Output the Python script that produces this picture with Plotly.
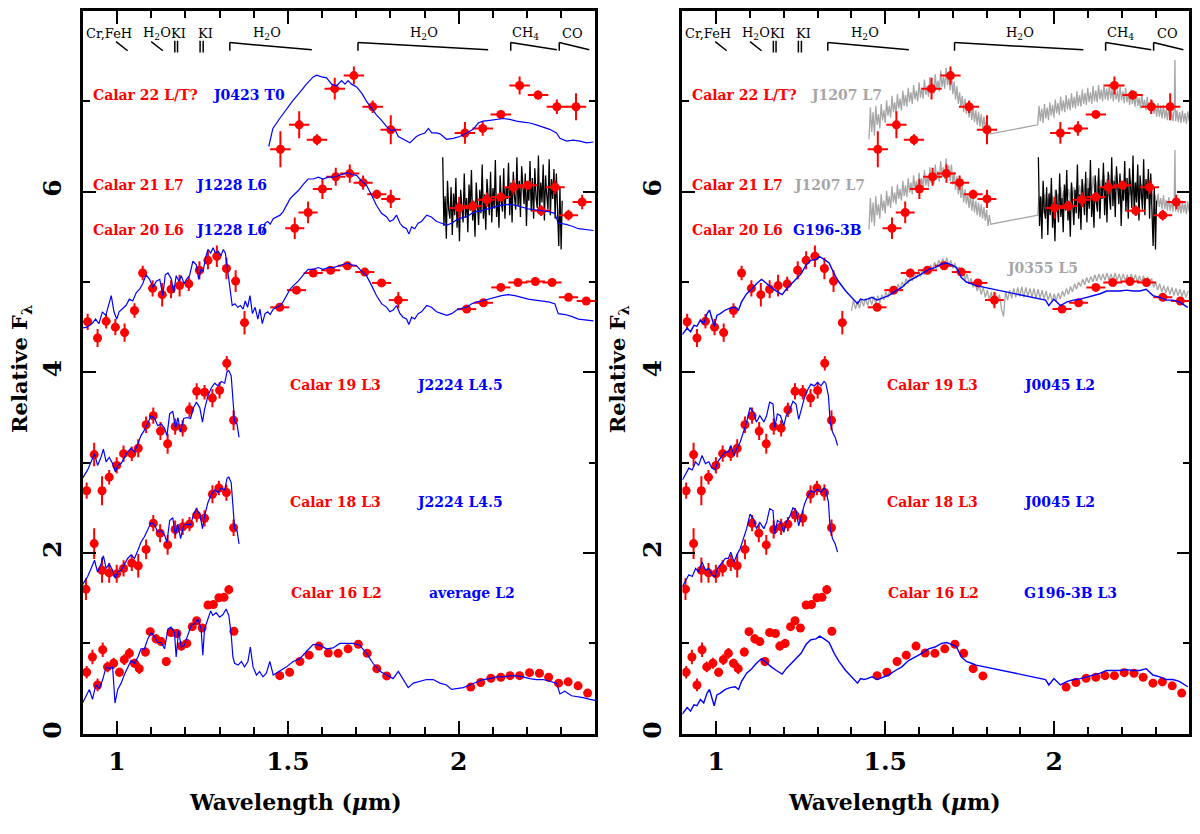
import plotly.graph_objects as go

# ---------------- photometry (identical in both panels) ----------------
CALAR16_X = [0.911, 0.928, 0.943, 0.958, 0.972, 0.990, 1.007, 1.021, 1.036, 1.051,
             1.065, 1.083, 1.097, 1.114, 1.129, 1.144, 1.158, 1.175, 1.188, 1.204,
             1.220, 1.233, 1.249, 1.266, 1.282, 1.298, 1.313, 1.327, 1.342,
             1.476, 1.505, 1.535, 1.562, 1.591, 1.618, 1.647, 1.676, 1.706, 1.732,
             1.760, 1.789,
             2.035, 2.064, 2.094, 2.123, 2.150, 2.178, 2.207, 2.236, 2.263, 2.292,
             2.320, 2.349, 2.377]
CALAR16_Y = [0.68, 0.85, 0.54, 0.93, 0.74, 0.78, 0.68, 0.82, 0.89, 0.78,
             0.72, 0.905, 1.13, 1.05, 1.02, 0.80, 1.12, 1.11, 0.97, 1.00,
             1.185, 1.25, 1.17, 1.425, 1.43, 1.505, 1.51, 1.595, 1.134,
             0.643, 0.68, 0.80, 0.87, 0.97, 0.894, 0.89, 0.94, 0.99, 0.89,
             0.72, 0.64,
             0.516, 0.567, 0.614, 0.625, 0.643, 0.643, 0.676, 0.67, 0.625, 0.56,
             0.574, 0.53, 0.45]
CALAR16_EY = [0.07, 0.08, 0.07, 0.08, 0.06, 0.06, 0.05, 0.06, 0.06, 0.05,
              0.06, 0.05, 0.04, 0.05, 0.05, 0.05, 0.04, 0.04, 0.05, 0.05,
              0.04, 0.04, 0.04, 0.04, 0.04, 0.04, 0.04, 0.05, 0.04,
              0.02, 0.02, 0.02, 0.02, 0.02, 0.02, 0.02, 0.02, 0.02, 0.02,
              0.02, 0.02,
              0.02, 0.02, 0.02, 0.02, 0.02, 0.02, 0.02, 0.02, 0.02, 0.02,
              0.02, 0.02, 0.02]

CALAR18_X = [0.909, 0.933, 0.956, 0.977, 0.999, 1.019, 1.043, 1.062, 1.085, 1.106,
             1.126, 1.148, 1.170, 1.192, 1.212, 1.233, 1.256, 1.279, 1.298, 1.320, 1.341]
CALAR18_Y = [1.60, 2.105, 1.81, 1.78, 1.77, 1.83, 1.89, 1.86, 2.04, 2.33,
             2.22, 2.09, 2.26, 2.29, 2.32, 2.42, 2.385, 2.65, 2.72, 2.67, 2.28]
CALAR18_EY = [0.12, 0.17, 0.14, 0.11, 0.10, 0.09, 0.09, 0.13, 0.11, 0.09,
              0.10, 0.11, 0.10, 0.09, 0.08, 0.08, 0.09, 0.10, 0.08, 0.09, 0.09]

CALAR19_X = [0.911, 0.933, 0.956, 0.977, 0.999, 1.019, 1.043, 1.062, 1.085, 1.106,
             1.127, 1.148, 1.170, 1.192, 1.212, 1.233, 1.256, 1.279, 1.300, 1.321, 1.341]
CALAR19_Y = [2.69, 3.09, 2.69, 2.84, 2.97, 3.10, 3.10, 3.16, 3.42, 3.52,
             3.35, 3.21, 3.40, 3.38, 3.585, 3.79, 3.78, 3.715, 3.80, 4.10, 3.47]
CALAR19_EY = [0.09, 0.13, 0.16, 0.08, 0.09, 0.09, 0.08, 0.10, 0.09, 0.09,
              0.10, 0.11, 0.09, 0.09, 0.08, 0.09, 0.08, 0.10, 0.09, 0.08, 0.11]

CALAR20_X = [0.914, 0.943, 0.968, 0.995, 1.022, 1.051, 1.075, 1.104, 1.132, 1.158,
             1.183, 1.210, 1.241, 1.266, 1.292, 1.320, 1.347, 1.373,
             1.476, 1.525, 1.574, 1.625, 1.674, 1.725, 1.774, 1.823,
             2.023, 2.072, 2.123, 2.173, 2.224, 2.273, 2.321, 2.373]
CALAR20_Y = [4.56, 4.38, 4.565, 4.50, 4.44, 4.685, 5.10, 4.93, 4.86, 4.92,
             4.96, 4.98, 5.13, 5.24, 5.285, 5.15, 5.01, 4.55,
             4.72, 4.91, 5.10, 5.13, 5.18, 5.11, 4.99, 4.80,
             4.70, 4.77, 4.94, 4.995, 5.005, 4.995, 4.83, 4.79]
CALAR20_EX = [0.012] * 18 + [0.028] * 16
CALAR20_EY = [0.09, 0.10, 0.08, 0.09, 0.10, 0.08, 0.08, 0.09, 0.13, 0.10,
              0.12, 0.08, 0.10, 0.10, 0.12, 0.12, 0.12, 0.13,
              0.03, 0.03, 0.03, 0.03, 0.03, 0.03, 0.03, 0.09,
              0.03, 0.03, 0.03, 0.03, 0.03, 0.03, 0.03, 0.03]

CALAR21_X = [1.520, 1.559, 1.601, 1.640, 1.681, 1.720, 1.760, 1.801,
             2.001, 2.041, 2.082, 2.123, 2.160, 2.202, 2.241, 2.282, 2.321, 2.361]
CALAR21_Y = [5.595, 5.77, 6.03, 6.165, 6.20, 6.10, 5.97, 5.92,
             5.82, 5.84, 5.91, 5.94, 6.05, 6.07, 5.79, 6.05, 5.74, 5.885]
CALAR21_EY = [0.12, 0.12, 0.11, 0.10, 0.10, 0.08, 0.05, 0.10,
              0.12, 0.06, 0.08, 0.05, 0.08, 0.05, 0.06, 0.08, 0.06, 0.08]

CALAR22_X = [1.478, 1.533, 1.585, 1.637, 1.693, 1.748, 1.801,
             2.018, 2.070, 2.123, 2.178, 2.232, 2.287, 2.343]
CALAR22_Y = [6.47, 6.74, 6.575, 7.14, 7.285, 6.94, 6.685,
             6.65, 6.70, 6.855, 7.175, 7.07, 6.94, 6.94]
CALAR22_EY = [0.20, 0.15, 0.06, 0.12, 0.10, 0.07, 0.16,
              0.12, 0.08, 0.03, 0.10, 0.05, 0.08, 0.15]

# K-band spectrum of Calar 21 (black)
CALAR21_SPEC_X = [
    1.9530, 1.9565, 1.9600, 1.9635, 1.9670, 1.9705, 1.9740, 1.9775, 1.9810, 1.9845,
    1.9880, 1.9915, 1.9950, 1.9985, 2.0020, 2.0055, 2.0090, 2.0125, 2.0160, 2.0195,
    2.0230, 2.0265, 2.0300, 2.0335, 2.0370, 2.0405, 2.0440, 2.0475, 2.0510, 2.0545,
    2.0580, 2.0615, 2.0650, 2.0685, 2.0720, 2.0755, 2.0790, 2.0825, 2.0860, 2.0895,
    2.0930, 2.0965, 2.1000, 2.1035, 2.1070, 2.1105, 2.1140, 2.1175, 2.1210, 2.1245,
    2.1280, 2.1315, 2.1350, 2.1385, 2.1420, 2.1455, 2.1490, 2.1525, 2.1560, 2.1595,
    2.1630, 2.1665, 2.1700, 2.1735, 2.1770, 2.1805, 2.1840, 2.1875, 2.1910, 2.1945,
    2.1980, 2.2015, 2.2050, 2.2085, 2.2120, 2.2155, 2.2190, 2.2225, 2.2260, 2.2295,
    2.2330, 2.2365, 2.2400, 2.2435, 2.2470, 2.2505, 2.2540, 2.2575, 2.2610, 2.2645,
    2.2680, 2.2715, 2.2750, 2.2785, 2.2820, 2.2855, 2.2890, 2.2925, 2.2960, 2.2995,
    2.3025,
]
CALAR21_SPEC_Y = [
    6.38, 5.62, 5.95, 5.48, 6.12, 5.80, 5.70, 6.05, 5.52, 5.98,
    5.74, 6.15, 5.60, 5.88, 5.45, 6.02, 5.83, 5.66, 6.20, 5.72,
    5.93, 5.55, 6.08, 5.79, 6.24, 5.68, 5.90, 5.50, 6.10, 5.84,
    5.63, 6.02, 5.76, 6.30, 5.70, 5.97, 5.58, 6.14, 5.86, 5.74,
    6.22, 5.66, 6.04, 5.81, 6.35, 5.72, 5.96, 5.60, 6.18, 5.88,
    5.78, 6.26, 5.70, 6.05, 5.92, 6.32, 5.74, 6.10, 5.66, 6.22,
    5.95, 5.80, 6.38, 5.84, 6.12, 5.72, 6.28, 5.98, 5.86, 6.20,
    5.62, 6.08, 5.90, 6.34, 5.78, 6.15, 5.70, 6.26, 5.94, 5.82,
    6.40, 5.76, 6.10, 5.88, 6.30, 5.68, 6.18, 5.96, 5.80, 6.36,
    5.74, 6.14, 5.92, 6.25, 5.70, 6.20, 5.85, 5.40, 6.05, 5.36,
    5.90,
]

# ---------------- comparison spectra ----------------
AVERAGE_L2 = [
    (0.899, 0.34), (0.909, 0.415), (0.919, 0.49), (0.928, 0.38), (0.938, 0.54),
    (0.948, 0.50), (0.958, 0.60), (0.968, 0.74), (0.977, 0.72), (0.987, 0.74),
    (0.994, 0.34), (1.002, 0.49), (1.012, 0.56), (1.021, 0.65), (1.031, 0.74),
    (1.041, 0.81), (1.051, 0.78), (1.061, 0.85), (1.070, 0.94), (1.080, 0.94),
    (1.090, 1.05), (1.100, 1.12), (1.110, 1.07), (1.119, 1.01), (1.129, 1.01),
    (1.139, 0.94), (1.149, 1.16), (1.158, 1.18), (1.168, 1.12), (1.173, 0.85),
    (1.180, 1.14), (1.188, 0.96), (1.197, 0.98), (1.207, 1.09), (1.217, 1.20),
    (1.227, 1.22), (1.237, 1.27), (1.246, 1.16), (1.251, 0.87), (1.256, 1.16),
    (1.266, 1.27), (1.274, 1.36), (1.280, 1.31), (1.290, 1.34), (1.300, 1.29),
    (1.310, 1.32), (1.319, 1.38), (1.327, 1.31), (1.334, 1.10), (1.339, 0.85),
    (1.344, 0.78), (1.354, 0.76), (1.364, 0.80), (1.373, 0.74), (1.383, 0.80),
    (1.390, 0.96), (1.398, 0.74), (1.408, 0.65), (1.417, 0.69), (1.427, 0.63),
    (1.437, 0.67), (1.447, 0.80), (1.457, 0.65), (1.466, 0.67), (1.476, 0.69),
    (1.496, 0.74), (1.515, 0.80), (1.535, 0.83), (1.554, 0.91), (1.574, 0.99),
    (1.593, 0.98), (1.613, 0.94), (1.632, 0.95), (1.652, 1.00), (1.671, 1.00),
    (1.691, 1.00), (1.710, 0.98), (1.730, 0.89), (1.749, 0.78), (1.769, 0.69),
    (1.789, 0.65), (1.808, 0.61), (1.823, 0.69), (1.837, 0.60), (1.852, 0.51),
    (1.867, 0.56), (1.886, 0.58), (1.906, 0.60), (1.925, 0.60), (1.945, 0.56),
    (1.964, 0.54), (1.979, 0.49), (1.993, 0.50), (2.013, 0.51), (2.032, 0.54),
    (2.052, 0.57), (2.071, 0.60), (2.091, 0.61), (2.110, 0.63), (2.130, 0.63),
    (2.149, 0.64), (2.169, 0.64), (2.188, 0.63), (2.208, 0.61), (2.227, 0.60),
    (2.247, 0.60), (2.266, 0.58), (2.286, 0.56), (2.296, 0.44), (2.310, 0.47),
    (2.330, 0.42), (2.350, 0.41), (2.364, 0.40), (2.384, 0.38), (2.399, 0.37),
]

J2224 = [
    (0.899, 1.65), (0.914, 1.74), (0.924, 1.83), (0.934, 1.92), (0.943, 1.79),
    (0.953, 1.88), (0.960, 1.97), (0.968, 1.83), (0.977, 1.88), (0.987, 1.81),
    (0.995, 1.72), (1.002, 1.79), (1.012, 1.81), (1.021, 1.88), (1.031, 1.94),
    (1.041, 1.98), (1.051, 1.94), (1.061, 2.03), (1.070, 2.12), (1.080, 2.18),
    (1.090, 2.27), (1.100, 2.34), (1.110, 2.31), (1.119, 2.23), (1.129, 2.25),
    (1.139, 2.20), (1.146, 2.12), (1.154, 2.36), (1.163, 2.39), (1.171, 2.20),
    (1.178, 2.32), (1.186, 2.16), (1.195, 2.31), (1.205, 2.32), (1.215, 2.31),
    (1.224, 2.43), (1.232, 2.49), (1.242, 2.43), (1.250, 2.27), (1.256, 2.41),
    (1.266, 2.56), (1.276, 2.65), (1.286, 2.70), (1.295, 2.67), (1.305, 2.72),
    (1.315, 2.70), (1.322, 2.83), (1.327, 2.84), (1.334, 2.78), (1.339, 2.49),
    (1.344, 2.27), (1.351, 2.25), (1.357, 2.10),
]

J1228 = [
    (0.897, 4.49), (0.912, 4.50), (0.927, 4.54), (0.937, 4.59), (0.947, 4.54),
    (0.957, 4.67), (0.967, 4.63), (0.976, 4.74), (0.983, 4.85), (0.991, 4.67),
    (0.999, 4.59), (1.006, 4.67), (1.016, 4.70), (1.026, 4.74), (1.036, 4.81),
    (1.046, 4.79), (1.056, 4.88), (1.066, 4.92), (1.075, 4.98), (1.085, 5.08),
    (1.095, 5.03), (1.105, 4.94), (1.115, 5.01), (1.125, 5.03), (1.134, 4.85),
    (1.141, 5.08), (1.149, 5.10), (1.159, 5.03), (1.166, 4.88), (1.173, 5.07),
    (1.181, 5.01), (1.188, 5.07), (1.196, 4.98), (1.203, 5.03), (1.212, 5.07),
    (1.222, 5.23), (1.232, 5.19), (1.239, 5.03), (1.245, 5.14), (1.252, 5.12),
    (1.259, 5.27), (1.266, 5.36), (1.274, 5.32), (1.281, 5.38), (1.288, 5.32),
    (1.296, 5.34), (1.304, 5.29), (1.311, 5.36), (1.317, 5.32), (1.325, 5.10),
    (1.331, 4.88), (1.337, 4.74), (1.345, 4.76), (1.353, 4.72), (1.361, 4.74),
    (1.369, 4.70), (1.375, 4.79), (1.382, 4.72), (1.389, 4.85), (1.396, 4.65),
    (1.404, 4.72), (1.412, 4.59), (1.418, 4.70), (1.425, 4.54), (1.433, 4.65),
    (1.441, 4.67), (1.448, 4.64), (1.457, 4.70), (1.467, 4.72), (1.477, 4.74),
    (1.486, 4.78), (1.496, 4.85), (1.506, 4.92), (1.516, 4.96), (1.530, 5.01),
    (1.545, 5.08), (1.559, 5.14), (1.574, 5.14), (1.589, 5.16), (1.603, 5.14),
    (1.618, 5.16), (1.633, 5.16), (1.647, 5.18), (1.662, 5.20), (1.674, 5.21),
    (1.686, 5.19), (1.701, 5.18), (1.715, 5.12), (1.730, 5.07), (1.745, 4.96),
    (1.759, 4.85), (1.774, 4.76), (1.789, 4.72), (1.798, 4.67), (1.808, 4.69),
    (1.818, 4.74), (1.828, 4.65), (1.837, 4.61), (1.847, 4.59), (1.854, 4.53),
    (1.862, 4.61), (1.871, 4.59), (1.881, 4.65), (1.891, 4.67), (1.906, 4.74),
    (1.920, 4.72), (1.935, 4.67), (1.950, 4.65), (1.965, 4.63), (1.979, 4.65),
    (1.994, 4.69), (2.008, 4.71), (2.023, 4.72), (2.038, 4.76), (2.052, 4.78),
    (2.067, 4.79), (2.086, 4.81), (2.106, 4.83), (2.125, 4.85), (2.145, 4.86),
    (2.164, 4.85), (2.184, 4.83), (2.203, 4.81), (2.223, 4.80), (2.242, 4.79),
    (2.262, 4.78), (2.281, 4.76), (2.291, 4.65), (2.311, 4.64), (2.330, 4.62),
    (2.350, 4.59), (2.369, 4.58), (2.394, 4.57),
]

J0423 = [
    (1.444, 6.50), (1.450, 6.62), (1.456, 6.70), (1.476, 6.81), (1.496, 6.92),
    (1.515, 7.01), (1.535, 7.10), (1.554, 7.19), (1.574, 7.27), (1.584, 7.29),
    (1.599, 7.27), (1.613, 7.26), (1.628, 7.19), (1.642, 7.17), (1.657, 7.23),
    (1.667, 7.19), (1.676, 7.23), (1.686, 7.19), (1.701, 7.16), (1.716, 7.09),
    (1.730, 7.00), (1.745, 6.92), (1.759, 6.85), (1.774, 6.79), (1.789, 6.72),
    (1.803, 6.67), (1.813, 6.69), (1.823, 6.61), (1.837, 6.58), (1.857, 6.54),
    (1.876, 6.61), (1.886, 6.63), (1.901, 6.65), (1.911, 6.70), (1.921, 6.65),
    (1.935, 6.65), (1.945, 6.64), (1.964, 6.58), (1.984, 6.59), (2.003, 6.61),
    (2.023, 6.65), (2.042, 6.69), (2.057, 6.76), (2.071, 6.78), (2.091, 6.79),
    (2.110, 6.80), (2.130, 6.81), (2.149, 6.80), (2.169, 6.78), (2.188, 6.77),
    (2.208, 6.76), (2.227, 6.74), (2.247, 6.71), (2.266, 6.69), (2.286, 6.65),
    (2.296, 6.59), (2.315, 6.56), (2.335, 6.57), (2.355, 6.56), (2.374, 6.54),
    (2.394, 6.55),
]

# J1207 (grey), drawn with Calar 22 and again one unit lower with Calar 21
J1207 = [
    (1.452, 6.58), (1.456, 6.93), (1.460, 6.66), (1.464, 6.88), (1.468, 6.62),
    (1.472, 6.95), (1.476, 6.74), (1.480, 6.86), (1.484, 6.70), (1.488, 6.97),
    (1.492, 6.79), (1.496, 6.90), (1.500, 6.76), (1.504, 7.01), (1.508, 6.84),
    (1.512, 6.95), (1.516, 6.82), (1.520, 7.06), (1.524, 6.88), (1.528, 6.99),
    (1.532, 6.86), (1.536, 7.08), (1.540, 6.92), (1.544, 7.03), (1.548, 6.90),
    (1.552, 7.12), (1.556, 6.95), (1.560, 7.07), (1.564, 6.94), (1.568, 7.15),
    (1.572, 6.99), (1.576, 7.10), (1.580, 6.97), (1.584, 7.18), (1.588, 7.02),
    (1.592, 7.12), (1.596, 7.00), (1.600, 7.21), (1.604, 7.04), (1.608, 7.15),
    (1.612, 7.03), (1.616, 7.24), (1.620, 7.07), (1.624, 7.17), (1.628, 7.05),
    (1.632, 7.27), (1.636, 7.10), (1.640, 7.20), (1.644, 7.08), (1.648, 7.30),
    (1.652, 7.13), (1.656, 7.23), (1.660, 7.11), (1.664, 7.34), (1.668, 7.16),
    (1.672, 7.27), (1.676, 7.14), (1.680, 7.37), (1.684, 7.18), (1.688, 7.29),
    (1.692, 7.12), (1.696, 7.30), (1.700, 7.08), (1.704, 7.22), (1.708, 7.02),
    (1.712, 7.17), (1.716, 6.97), (1.720, 7.10), (1.724, 6.93), (1.728, 7.06),
    (1.732, 6.88), (1.736, 7.03), (1.740, 6.86), (1.744, 6.98), (1.748, 6.82),
    (1.752, 6.96), (1.756, 6.79), (1.760, 6.93), (1.764, 6.77), (1.768, 6.90),
    (1.772, 6.74), (1.776, 6.88), (1.780, 6.72), (1.784, 6.86), (1.788, 6.70),
    (1.792, 6.83), (1.796, 6.68), (1.800, 6.80), (1.804, 6.62), (1.808, 6.74),
    (1.812, 6.64),
    (1.951, 6.74), (1.955, 6.95), (1.959, 6.78), (1.963, 6.92), (1.967, 6.76),
    (1.971, 6.97), (1.975, 6.81), (1.979, 6.93), (1.983, 6.79), (1.987, 6.99),
    (1.991, 6.84), (1.995, 6.96), (1.999, 6.82), (2.003, 7.02), (2.007, 6.87),
    (2.011, 6.98), (2.015, 6.85), (2.019, 7.05), (2.023, 6.89), (2.027, 7.01),
    (2.031, 6.88), (2.035, 7.07), (2.039, 6.91), (2.043, 7.03), (2.047, 6.90),
    (2.051, 7.09), (2.055, 6.93), (2.059, 7.05), (2.063, 6.92), (2.067, 7.11),
    (2.071, 6.95), (2.075, 7.07), (2.079, 6.94), (2.083, 7.13), (2.087, 6.97),
    (2.091, 7.09), (2.095, 6.96), (2.099, 7.15), (2.103, 6.99), (2.107, 7.10),
    (2.111, 6.97), (2.115, 7.17), (2.119, 7.00), (2.123, 7.12), (2.127, 6.99),
    (2.131, 7.18), (2.135, 7.02), (2.139, 7.13), (2.143, 7.00), (2.147, 7.19),
    (2.151, 7.02), (2.155, 7.14), (2.159, 7.01), (2.163, 7.19), (2.167, 7.03),
    (2.171, 7.13), (2.175, 7.00), (2.179, 7.18), (2.183, 7.02), (2.187, 7.12),
    (2.191, 6.99), (2.195, 7.17), (2.199, 7.01), (2.203, 7.11), (2.207, 6.98),
    (2.211, 7.15), (2.215, 6.99), (2.219, 7.09), (2.223, 6.96), (2.227, 7.13),
    (2.231, 6.97), (2.235, 7.07), (2.239, 6.94), (2.243, 7.11), (2.247, 6.95),
    (2.251, 7.04), (2.255, 6.92), (2.259, 7.08), (2.263, 6.93), (2.267, 7.02),
    (2.271, 6.90), (2.275, 7.05), (2.279, 6.91), (2.283, 6.99), (2.287, 6.86),
    (2.291, 7.01), (2.295, 6.86), (2.299, 6.96), (2.303, 6.83), (2.307, 6.98),
    (2.311, 6.83), (2.315, 6.93), (2.319, 6.81), (2.323, 6.96), (2.327, 6.81),
    (2.331, 6.91), (2.335, 6.79), (2.339, 6.94), (2.343, 6.79), (2.347, 6.89),
    (2.351, 6.78), (2.355, 6.92), (2.357, 7.46), (2.359, 6.78), (2.363, 6.90),
    (2.367, 6.77), (2.371, 6.88), (2.375, 6.76), (2.379, 6.90), (2.383, 6.77),
    (2.387, 6.87), (2.391, 6.75), (2.395, 6.89), (2.399, 6.78),
]

J0355 = [
    (1.400, 4.68), (1.406, 4.80), (1.412, 4.70), (1.418, 4.79), (1.424, 4.71),
    (1.430, 4.81), (1.436, 4.73), (1.442, 4.82), (1.448, 4.74), (1.454, 4.83),
    (1.460, 4.75), (1.466, 4.84), (1.472, 4.76), (1.478, 4.85), (1.484, 4.77),
    (1.490, 4.86), (1.496, 4.80), (1.502, 4.89), (1.508, 4.83), (1.514, 4.92),
    (1.520, 4.86), (1.526, 4.95), (1.532, 4.89), (1.538, 4.98), (1.544, 4.92),
    (1.550, 5.00), (1.556, 4.95), (1.562, 5.04), (1.568, 4.98), (1.574, 5.07),
    (1.580, 5.01), (1.586, 5.10), (1.592, 5.04), (1.598, 5.12), (1.604, 5.06),
    (1.610, 5.14), (1.616, 5.08), (1.622, 5.17), (1.628, 5.11), (1.634, 5.19),
    (1.640, 5.13), (1.646, 5.22), (1.652, 5.15), (1.658, 5.24), (1.664, 5.18),
    (1.670, 5.26), (1.676, 5.19), (1.682, 5.27), (1.688, 5.18), (1.694, 5.24),
    (1.700, 5.15), (1.706, 5.21), (1.712, 5.11), (1.718, 5.17), (1.724, 5.07),
    (1.730, 5.13), (1.736, 5.02), (1.742, 5.09), (1.748, 4.98), (1.754, 5.04),
    (1.760, 4.94), (1.766, 5.00), (1.772, 4.90), (1.778, 4.97), (1.784, 4.86),
    (1.790, 4.94), (1.796, 4.83), (1.802, 4.91), (1.808, 4.80), (1.814, 4.89),
    (1.820, 4.74), (1.826, 4.88), (1.832, 4.78), (1.838, 4.86), (1.844, 4.70),
    (1.850, 4.62), (1.856, 4.90), (1.862, 4.80), (1.868, 4.91), (1.874, 4.82),
    (1.880, 4.93), (1.886, 4.83), (1.892, 4.94), (1.898, 4.84), (1.904, 4.95),
    (1.910, 4.83), (1.916, 4.94), (1.922, 4.84), (1.928, 4.93), (1.934, 4.83),
    (1.940, 4.93), (1.946, 4.82), (1.952, 4.92), (1.958, 4.82), (1.964, 4.91),
    (1.970, 4.81), (1.976, 4.90), (1.982, 4.80), (1.988, 4.88), (1.994, 4.78),
    (2.000, 4.87), (2.006, 4.79), (2.012, 4.88), (2.018, 4.81), (2.024, 4.90),
    (2.030, 4.84), (2.036, 4.93), (2.042, 4.86), (2.048, 4.95), (2.054, 4.89),
    (2.060, 4.98), (2.066, 4.92), (2.072, 5.00), (2.078, 4.95), (2.084, 5.03),
    (2.090, 4.97), (2.096, 5.05), (2.102, 4.99), (2.108, 5.06), (2.114, 5.00),
    (2.120, 5.08), (2.126, 5.01), (2.132, 5.09), (2.138, 5.02), (2.144, 5.09),
    (2.150, 5.02), (2.156, 5.10), (2.162, 5.02), (2.168, 5.09), (2.174, 5.01),
    (2.180, 5.10), (2.186, 5.02), (2.192, 5.09), (2.198, 5.01), (2.204, 5.09),
    (2.210, 5.01), (2.216, 5.08), (2.222, 5.00), (2.228, 5.09), (2.234, 5.01),
    (2.240, 5.08), (2.246, 5.00), (2.252, 5.07), (2.258, 4.99), (2.264, 5.07),
    (2.270, 4.99), (2.276, 5.06), (2.282, 4.98), (2.288, 5.04), (2.294, 4.94),
    (2.300, 5.00), (2.306, 4.91), (2.312, 4.98), (2.318, 4.89), (2.324, 4.96),
    (2.330, 4.88), (2.336, 4.95), (2.342, 4.86), (2.348, 4.94), (2.354, 4.85),
    (2.360, 4.93), (2.366, 4.85), (2.372, 4.92), (2.378, 4.84), (2.384, 4.91),
    (2.390, 4.83), (2.396, 4.90),
]

# G196-3B (plotted with Calar 16 as is, and shifted up with Calar 20)
G196_3B = [
    (0.899, 0.215), (0.914, 0.29), (0.924, 0.25), (0.934, 0.32), (0.943, 0.31),
    (0.953, 0.38), (0.963, 0.34), (0.973, 0.45), (0.980, 0.49), (0.987, 0.40),
    (0.994, 0.31), (1.002, 0.43), (1.012, 0.45), (1.027, 0.49), (1.041, 0.51),
    (1.056, 0.52), (1.066, 0.49), (1.075, 0.58), (1.090, 0.67), (1.105, 0.72),
    (1.119, 0.78), (1.134, 0.83), (1.149, 0.78), (1.163, 0.74), (1.178, 0.70),
    (1.195, 0.66), (1.207, 0.72), (1.222, 0.78), (1.236, 0.83), (1.251, 0.89),
    (1.266, 0.99), (1.280, 1.04), (1.295, 1.05), (1.306, 1.08), (1.319, 1.05),
    (1.334, 1.01), (1.349, 0.89), (1.363, 0.80), (1.383, 0.70), (1.403, 0.62),
    (1.418, 0.56), (1.427, 0.61), (1.437, 0.60), (1.447, 0.61), (1.461, 0.63),
    (1.476, 0.60), (1.491, 0.62), (1.510, 0.65), (1.530, 0.70), (1.549, 0.74),
    (1.569, 0.81), (1.589, 0.85), (1.608, 0.89), (1.628, 0.94), (1.647, 0.96),
    (1.667, 1.00), (1.682, 1.01), (1.696, 0.99), (1.711, 0.96), (1.725, 0.85),
    (1.740, 0.80), (1.755, 0.78), (1.769, 0.76), (1.974, 0.60), (1.984, 0.54),
    (1.999, 0.61), (2.018, 0.54), (2.038, 0.58), (2.057, 0.60), (2.077, 0.61),
    (2.097, 0.63), (2.116, 0.65), (2.136, 0.67), (2.155, 0.70), (2.175, 0.70),
    (2.194, 0.70), (2.214, 0.71), (2.233, 0.70), (2.253, 0.70), (2.272, 0.72),
    (2.292, 0.65), (2.312, 0.63), (2.331, 0.60), (2.351, 0.60), (2.370, 0.58),
    (2.395, 0.52),
]

J0045 = [
    (0.900, 1.63), (0.910, 1.70), (0.919, 1.76), (0.929, 1.74), (0.939, 1.83),
    (0.948, 1.79), (0.958, 1.90), (0.968, 1.81), (0.978, 1.83), (0.987, 1.76),
    (0.997, 1.74), (1.004, 1.83), (1.017, 1.90), (1.027, 1.94), (1.036, 1.94),
    (1.043, 2.01), (1.053, 1.90), (1.061, 1.98), (1.071, 2.05), (1.080, 2.16),
    (1.090, 2.27), (1.100, 2.43), (1.110, 2.38), (1.119, 2.27), (1.129, 2.34),
    (1.141, 2.27), (1.149, 2.34), (1.158, 2.49), (1.168, 2.47), (1.173, 2.21),
    (1.181, 2.36), (1.190, 2.34), (1.200, 2.23), (1.207, 2.34), (1.217, 2.40),
    (1.227, 2.50), (1.236, 2.47), (1.244, 2.30), (1.251, 2.40), (1.261, 2.54),
    (1.271, 2.63), (1.280, 2.69), (1.290, 2.67), (1.300, 2.71), (1.310, 2.67),
    (1.319, 2.72), (1.324, 2.70), (1.332, 2.56), (1.337, 2.27), (1.344, 2.16),
    (1.352, 2.10), (1.359, 2.01),
]

# absorption features marked along the top
BAND_NAMES = ["H<sub>2</sub>O", "H<sub>2</sub>O", "CH<sub>4</sub>", "CO"]
BAND_START = [1.33, 1.705, 2.152, 2.294]
BAND_END = [1.57, 2.086, 2.287, 2.382]
LINE_NAMES = ["Cr,FeH", "H<sub>2</sub>O", "KI", "KI"]
LINE_START = [0.997, 1.100, 1.169, 1.243]
LINE_END = [1.031, 1.134, 1.177, 1.252]

RED = "#ff0000"
BLUE = "#0000ff"
GRAY = "#a6a6a6"
BLACK = "#000000"
SERIF = "DejaVu Serif"

fig = go.Figure()


def unzip(pairs, offset=0.0, xmin=None):
    xs, ys = [], []
    for x, y in pairs:
        if xmin is not None and x < xmin:
            continue
        xs.append(x)
        ys.append(round(y + offset, 3))
    return xs, ys


def add_line(pairs, color, width, panel, offset=0.0, xmin=None):
    xs, ys = unzip(pairs, offset, xmin)
    fig.add_trace(go.Scatter(
        x=xs, y=ys, mode="lines",
        line={"color": color, "width": width},
        xaxis="x" + panel, yaxis="y" + panel,
        showlegend=False, hoverinfo="skip",
    ))


def add_points(x, y, ey, panel, ex=None):
    fig.add_trace(go.Scatter(
        x=x, y=y, mode="markers",
        marker={"color": RED, "size": 9},
        error_y={"type": "data", "array": ey, "color": RED, "thickness": 2, "width": 0},
        error_x={"type": "data", "array": ex, "color": RED, "thickness": 2, "width": 0}
        if ex is not None else None,
        xaxis="x" + panel, yaxis="y" + panel,
        showlegend=False,
    ))


def add_all_points(panel):
    add_points(CALAR16_X, CALAR16_Y, CALAR16_EY, panel)
    add_points(CALAR18_X, CALAR18_Y, CALAR18_EY, panel)
    add_points(CALAR19_X, CALAR19_Y, CALAR19_EY, panel)
    add_points(CALAR20_X, CALAR20_Y, CALAR20_EY, panel, CALAR20_EX)
    add_points(CALAR21_X, CALAR21_Y, CALAR21_EY, panel, [0.028] * len(CALAR21_X))
    add_points(CALAR22_X, CALAR22_Y, CALAR22_EY, panel, [0.03] * len(CALAR22_X))


calar21_spec = list(zip(CALAR21_SPEC_X, CALAR21_SPEC_Y))

# left panel
add_line(calar21_spec, BLACK, 1.3, "")
add_all_points("")
add_line(AVERAGE_L2, BLUE, 1.2, "")
add_line(J2224, BLUE, 1.2, "")
add_line(J2224, BLUE, 1.2, "", offset=1.18)
add_line(J1228, BLUE, 1.2, "")
add_line(J1228, BLUE, 1.2, "", offset=1.0, xmin=1.42)
add_line(J0423, BLUE, 1.2, "")

# right panel
add_line(J1207, GRAY, 1.3, "2")
add_line(J1207, GRAY, 1.3, "2", offset=-1.0)
add_line(J0355, GRAY, 1.3, "2")
add_line(calar21_spec, BLACK, 1.3, "2")
add_all_points("2")
add_line(G196_3B, BLUE, 1.4, "2")
add_line(G196_3B, BLUE, 1.4, "2", offset=4.2)
add_line(J0045, BLUE, 1.2, "2")
add_line(J0045, BLUE, 1.2, "2", offset=1.18)

# labels: (text, x, y, colour)
LEFT_LABELS = [
    ("Calar 22 L/T?", 0.925, 7.07, RED), ("J0423 T0", 1.271, 7.07, BLUE),
    ("Calar 21 L7", 0.925, 6.07, RED), ("J1228 L6", 1.222, 6.07, BLUE),
    ("Calar 20 L6", 0.925, 5.58, RED), ("J1228 L6", 1.222, 5.58, BLUE),
    ("Calar 19 L3", 1.500, 3.86, RED), ("J2224 L4.5", 1.869, 3.86, BLUE),
    ("Calar 18 L3", 1.500, 2.56, RED), ("J2224 L4.5", 1.869, 2.56, BLUE),
    ("Calar 16 L2", 1.503, 1.56, RED), ("average L2", 1.906, 1.56, BLUE),
]
RIGHT_LABELS = [
    ("Calar 22 L/T?", 0.922, 7.07, RED), ("J1207 L7", 1.271, 7.07, GRAY),
    ("Calar 21 L7", 0.922, 6.07, RED), ("J1207 L7", 1.222, 6.07, GRAY),
    ("Calar 20 L6", 0.922, 5.58, RED), ("G196-3B", 1.222, 5.58, BLUE),
    ("J0355 L5", 1.852, 5.16, GRAY),
    ("Calar 19 L3", 1.500, 3.86, RED), ("J0045 L2", 1.903, 3.86, BLUE),
    ("Calar 18 L3", 1.500, 2.56, RED), ("J0045 L2", 1.903, 2.56, BLUE),
    ("Calar 16 L2", 1.503, 1.56, RED), ("G196-3B L3", 1.906, 1.56, BLUE),
]

annotations = []
shapes = []
for panel, labels in (("", LEFT_LABELS), ("2", RIGHT_LABELS)):
    for text, x, y, color in labels:
        annotations.append(dict(
            text="<b>" + text + "</b>", x=x, y=y, xref="x" + panel, yref="y" + panel,
            xanchor="left", yanchor="middle", showarrow=False,
            font={"family": SERIF, "size": 14, "color": color},
        ))

    # feature markers at the top
    line_text_x = [0.903, 1.071, 1.152, 1.230]
    for name, x0, x1, tx in zip(LINE_NAMES, LINE_START, LINE_END, line_text_x):
        annotations.append(dict(
            text=name, x=tx, y=7.75, xref="x" + panel, yref="y" + panel,
            xanchor="left", yanchor="middle", showarrow=False,
            font={"family": SERIF, "size": 13, "color": BLACK},
        ))
        if name == "KI":
            for xv in (x0, x1):
                shapes.append(dict(type="line", x0=xv, x1=xv, y0=7.67, y1=7.54,
                                   xref="x" + panel, yref="y" + panel,
                                   line={"color": BLACK, "width": 1.5}))
        else:
            shapes.append(dict(type="line", x0=x0, x1=x1, y0=7.66, y1=7.56,
                               xref="x" + panel, yref="y" + panel,
                               line={"color": BLACK, "width": 1.5}))
    band_text_x = [1.393, 1.852, 2.150, 2.297]
    for name, x0, x1, tx in zip(BAND_NAMES, BAND_START, BAND_END, band_text_x):
        annotations.append(dict(
            text=name, x=tx, y=7.75, xref="x" + panel, yref="y" + panel,
            xanchor="left", yanchor="middle", showarrow=False,
            font={"family": SERIF, "size": 13, "color": BLACK},
        ))
        shapes.append(dict(type="line", x0=x0, x1=x0, y0=7.65, y1=7.56,
                           xref="x" + panel, yref="y" + panel,
                           line={"color": BLACK, "width": 1.5}))
        shapes.append(dict(type="line", x0=x0, x1=x1, y0=7.65, y1=7.57,
                           xref="x" + panel, yref="y" + panel,
                           line={"color": BLACK, "width": 1.5}))

# axis titles (paper coordinates)
for xc in (0.2432, 0.7492):
    annotations.append(dict(
        text="<b>Wavelength (<i>μ</i>m)</b>", x=xc, y=0.0232, xref="paper", yref="paper",
        xanchor="center", yanchor="middle", showarrow=False,
        font={"family": SERIF, "size": 22, "color": BLACK},
    ))
for xc in (0.0110, 0.5160):
    annotations.append(dict(
        text="<b>Relative F<sub>λ</sub></b>", x=xc, y=0.5575, xref="paper", yref="paper",
        xanchor="center", yanchor="middle", showarrow=False, textangle=-90,
        font={"family": SERIF, "size": 21, "color": BLACK},
    ))

xaxis_style = dict(
    range=[0.9, 2.4], tick0=0, dtick=0.5,
    ticks="inside", ticklen=13, tickwidth=2, tickcolor=BLACK,
    minor={"dtick": 0.1, "tick0": 0, "ticks": "inside", "ticklen": 7,
           "tickwidth": 2, "tickcolor": BLACK, "showgrid": False},
    showline=True, linecolor=BLACK, linewidth=2.5, mirror="allticks",
    showgrid=False, zeroline=False, ticklabelstandoff=4,
    tickfont={"family": SERIF, "size": 25, "color": BLACK, "weight": "bold"},
)
yaxis_style = dict(
    range=[0, 8], tickvals=[0, 2, 4, 6],
    ticks="inside", ticklen=13, tickwidth=2, tickcolor=BLACK,
    minor={"dtick": 1, "tick0": 0, "ticks": "inside", "ticklen": 7,
           "tickwidth": 2, "tickcolor": BLACK, "showgrid": False},
    showline=True, linecolor=BLACK, linewidth=2.5, mirror="allticks",
    showgrid=False, zeroline=False, tickangle=-90, ticklabelstandoff=9,
    tickfont={"family": SERIF, "size": 25, "color": BLACK, "weight": "bold"},
    domain=[0.1076, 0.9988],
)

# the page body adds an 8 px margin on every side, so the figure is sized to
# fit inside it without scrolling
fig.update_layout(
    width=1184, height=818,
    margin={"l": 0, "r": 0, "t": 0, "b": 0},
    paper_bgcolor="white", plot_bgcolor="white",
    showlegend=False,
    xaxis=dict(xaxis_style, domain=[0.0633, 0.4966], anchor="y"),
    yaxis=dict(yaxis_style, anchor="x"),
    xaxis2=dict(xaxis_style, domain=[0.5701, 0.9987], anchor="y2"),
    yaxis2=dict(yaxis_style, anchor="x2"),
    annotations=annotations,
    shapes=shapes,
)

fig.write_html("out.html")
